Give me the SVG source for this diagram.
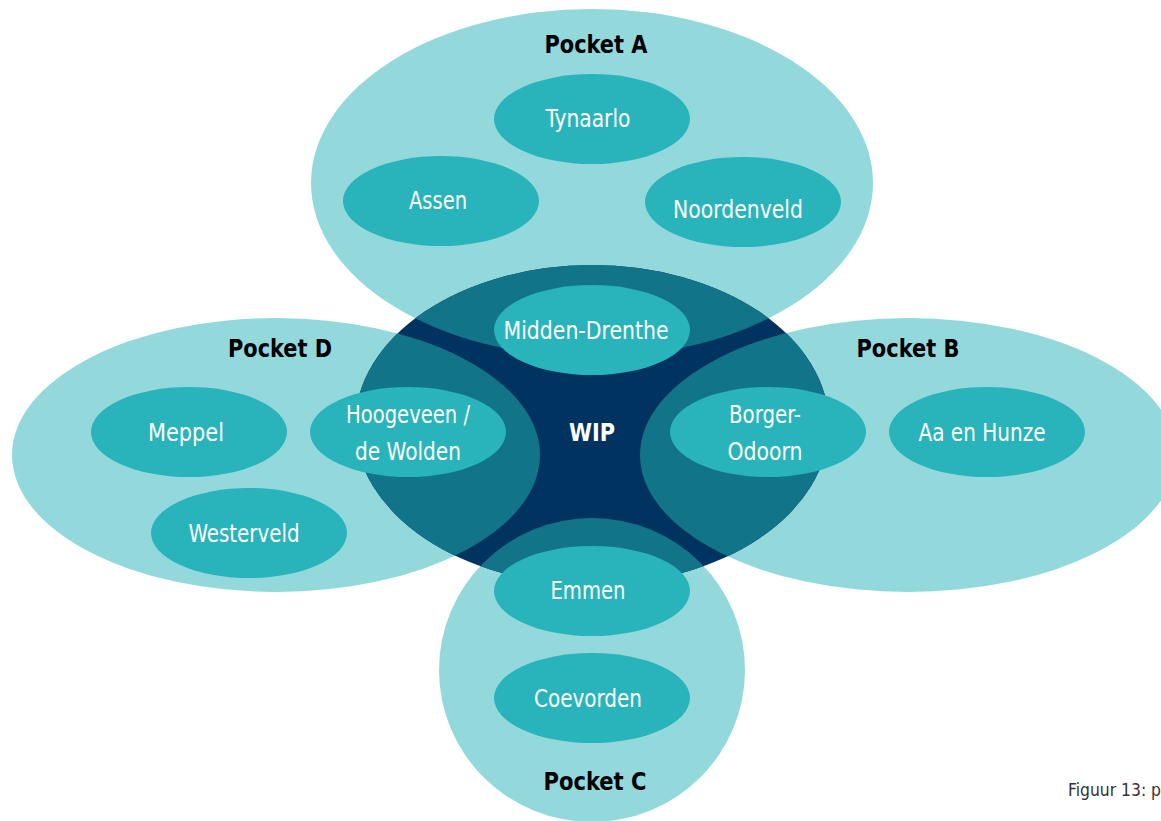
<svg xmlns="http://www.w3.org/2000/svg" xmlns:xlink="http://www.w3.org/1999/xlink" width="1161" height="821" viewBox="0 0 1161 821">
<style>
.pocket{fill:#93d9dc}
.wip{fill:#00335f}
.overlap{fill:#127489}
.city{fill:#29b4bb}
.ct{font-family:"Liberation Sans Narrow","DejaVu Sans Condensed","Liberation Sans",sans-serif;font-size:24px;fill:#ffffff;text-anchor:middle}
.pt{font-family:"Liberation Sans Narrow","DejaVu Sans Condensed","Liberation Sans",sans-serif;font-size:24px;font-weight:bold;fill:#000000;text-anchor:middle}
.wt{font-family:"Liberation Sans Narrow","DejaVu Sans Condensed","Liberation Sans",sans-serif;font-size:24px;font-weight:bold;fill:#ffffff;text-anchor:middle}
.cap{font-family:"Liberation Sans Narrow","DejaVu Sans Condensed","Liberation Sans",sans-serif;font-size:17px;fill:#333333}
</style>
<defs>
<ellipse id="shA" cx="592" cy="183" rx="281" ry="174"/>
<ellipse id="shB" cx="908" cy="455" rx="268" ry="137"/>
<ellipse id="shC" cx="592" cy="670" rx="153" ry="152"/>
<ellipse id="shD" cx="276" cy="455" rx="264" ry="137"/>
<clipPath id="wipClip"><ellipse cx="592" cy="425" rx="237" ry="160"/></clipPath>
</defs>
<rect width="1161" height="821" fill="#ffffff"/>
<g id="pocket-A"><use xlink:href="#shA" class="pocket"/></g>
<g id="pocket-B"><use xlink:href="#shB" class="pocket"/></g>
<g id="pocket-C"><use xlink:href="#shC" class="pocket"/></g>
<g id="pocket-D"><use xlink:href="#shD" class="pocket"/></g>
<g id="wip">
<ellipse cx="592" cy="425" rx="237" ry="160" class="wip"/>
<g clip-path="url(#wipClip)">
<use xlink:href="#shA" class="overlap"/>
<use xlink:href="#shB" class="overlap"/>
<use xlink:href="#shC" class="overlap"/>
<use xlink:href="#shD" class="overlap"/>
</g>
<text x="592" y="441" class="wt" textLength="46" lengthAdjust="spacingAndGlyphs">WIP</text>
</g>
<g id="labels">
<text x="596" y="53" class="pt" textLength="103" lengthAdjust="spacingAndGlyphs">Pocket A</text>
<text x="908" y="357" class="pt" textLength="103" lengthAdjust="spacingAndGlyphs">Pocket B</text>
<text x="595" y="790" class="pt" textLength="103" lengthAdjust="spacingAndGlyphs">Pocket C</text>
<text x="280" y="357" class="pt" textLength="104" lengthAdjust="spacingAndGlyphs">Pocket D</text>
</g>
<g id="tynaarlo"><ellipse cx="592" cy="119" rx="98" ry="45" class="city"/><text x="588" y="127" class="ct" textLength="85" lengthAdjust="spacingAndGlyphs">Tynaarlo</text></g>
<g id="assen"><ellipse cx="441" cy="201" rx="98" ry="45" class="city"/><text x="438" y="209" class="ct" textLength="58" lengthAdjust="spacingAndGlyphs">Assen</text></g>
<g id="noordenveld"><ellipse cx="743" cy="202" rx="98" ry="45" class="city"/><text x="738" y="218" class="ct" textLength="130" lengthAdjust="spacingAndGlyphs">Noordenveld</text></g>
<g id="midden-drenthe"><ellipse cx="592" cy="330" rx="98" ry="45" class="city"/><text x="586" y="339" class="ct" textLength="165" lengthAdjust="spacingAndGlyphs">Midden-Drenthe</text></g>
<g id="hoogeveen"><ellipse cx="408" cy="432" rx="98" ry="45" class="city"/><text x="408" y="423" class="ct" textLength="124" lengthAdjust="spacingAndGlyphs">Hoogeveen /</text><text x="408" y="460" class="ct" textLength="106" lengthAdjust="spacingAndGlyphs">de Wolden</text></g>
<g id="borger-odoorn"><ellipse cx="768" cy="432" rx="98" ry="45" class="city"/><text x="765" y="423" class="ct" textLength="72" lengthAdjust="spacingAndGlyphs">Borger-</text><text x="765" y="460" class="ct" textLength="75" lengthAdjust="spacingAndGlyphs">Odoorn</text></g>
<g id="aa-en-hunze"><ellipse cx="987" cy="432" rx="98" ry="45" class="city"/><text x="982" y="441" class="ct" textLength="127" lengthAdjust="spacingAndGlyphs">Aa en Hunze</text></g>
<g id="meppel"><ellipse cx="189" cy="432" rx="98" ry="45" class="city"/><text x="186" y="441" class="ct" textLength="76" lengthAdjust="spacingAndGlyphs">Meppel</text></g>
<g id="westerveld"><ellipse cx="249" cy="533" rx="98" ry="45" class="city"/><text x="244" y="542" class="ct" textLength="111" lengthAdjust="spacingAndGlyphs">Westerveld</text></g>
<g id="emmen"><ellipse cx="592" cy="591" rx="98" ry="45" class="city"/><text x="588" y="599" class="ct" textLength="75" lengthAdjust="spacingAndGlyphs">Emmen</text></g>
<g id="coevorden"><ellipse cx="592" cy="698" rx="98" ry="45" class="city"/><text x="588" y="707" class="ct" textLength="108" lengthAdjust="spacingAndGlyphs">Coevorden</text></g>
<g id="connectors"></g>
<text x="1068" y="796" class="cap" textLength="93" lengthAdjust="spacingAndGlyphs">Figuur 13: p</text>
</svg>
